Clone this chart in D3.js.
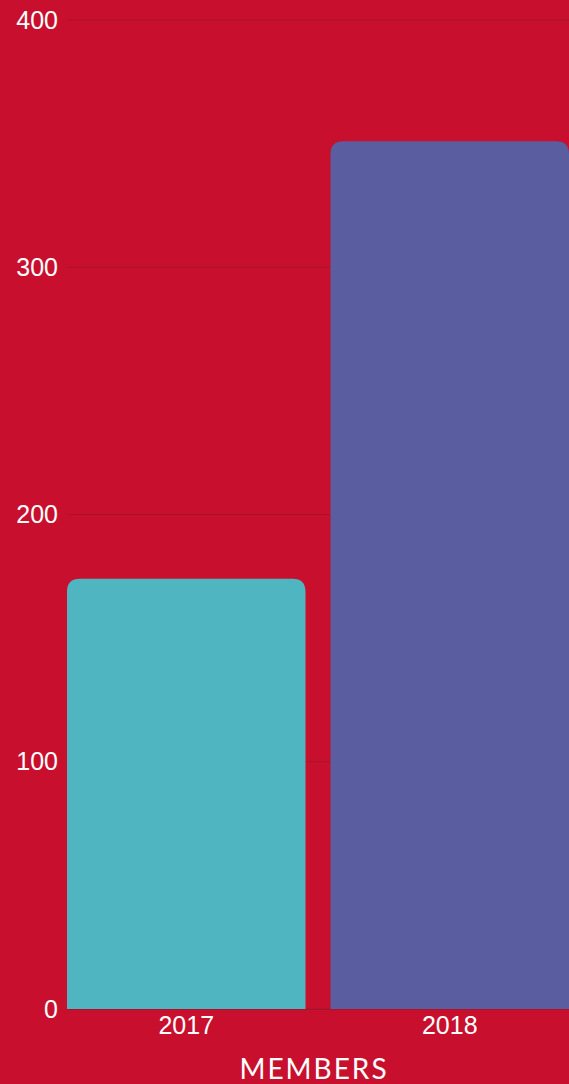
<!DOCTYPE html>
<html>
<head>
<meta charset="utf-8">
<script src="https://cdn.jsdelivr.net/npm/d3@7"></script>
<style>
  html, body { margin: 0; padding: 0; background: #c8102e; }
  svg { display: block; }
</style>
</head>
<body>
<svg id="chart"></svg>
<script>
// chart data
const years = ["2017", "2018"];
const members = [174, 351];
const barColors = ["#4fb6c1", "#5a5ea0"];
const yTicks = [0, 100, 200, 300, 400];

const width = 569;
const height = 1084;
const margin = { top: 20, right: 0, bottom: 75, left: 67 };

const svg = d3.select("#chart")
  .attr("width", width)
  .attr("height", height);

const x = d3.scaleBand()
  .domain(years)
  .range([margin.left, width - margin.right])
  .paddingInner(0.095)
  .paddingOuter(0);

const y = d3.scaleLinear()
  .domain([0, 400])
  .range([height - margin.bottom, margin.top]);

// grid lines
svg.append("g")
  .selectAll("line")
  .data(yTicks)
  .enter()
  .append("line")
  .attr("x1", margin.left)
  .attr("x2", width)
  .attr("y1", d => y(d))
  .attr("y2", d => y(d))
  .attr("stroke", "#a8132c")
  .attr("stroke-width", 1);

// bars with rounded tops
const r = 13;
function barPath(x0, w, yTop, yBase) {
  return "M" + x0 + "," + yBase +
    "V" + (yTop + r) +
    "Q" + x0 + "," + yTop + " " + (x0 + r) + "," + yTop +
    "H" + (x0 + w - r) +
    "Q" + (x0 + w) + "," + yTop + " " + (x0 + w) + "," + (yTop + r) +
    "V" + yBase + "Z";
}

svg.append("g")
  .selectAll("path")
  .data(years)
  .enter()
  .append("path")
  .attr("d", (d, i) => barPath(x(d), x.bandwidth(), y(members[i]), y(0)))
  .attr("fill", (d, i) => barColors[i]);

// y axis labels
const yAxis = svg.append("g")
  .attr("transform", "translate(" + margin.left + ",0)")
  .call(d3.axisLeft(y).tickValues(yTicks).tickSize(0).tickPadding(9));
yAxis.select(".domain").remove();
yAxis.selectAll("text")
  .attr("fill", "#ffffff")
  .style("font-family", "'Liberation Sans', Arial, sans-serif")
  .style("font-size", "25px");

// x axis
const xAxis = svg.append("g")
  .attr("transform", "translate(0," + y(0) + ")")
  .call(d3.axisBottom(x).tickSize(0).tickPadding(7));
xAxis.select(".domain")
  .attr("stroke", "#a8132c");
xAxis.selectAll("text")
  .attr("fill", "#ffffff")
  .style("font-family", "'Liberation Sans', Arial, sans-serif")
  .style("font-size", "25px");

// axis title
svg.append("text")
  .attr("x", 314)
  .attr("y", 1079)
  .attr("text-anchor", "middle")
  .attr("fill", "#ffffff")
  .style("font-family", "Lato, 'Open Sans', sans-serif")
  .style("font-size", "28px")
  .style("letter-spacing", "2px")
  .text("MEMBERS");
</script>
</body>
</html>
